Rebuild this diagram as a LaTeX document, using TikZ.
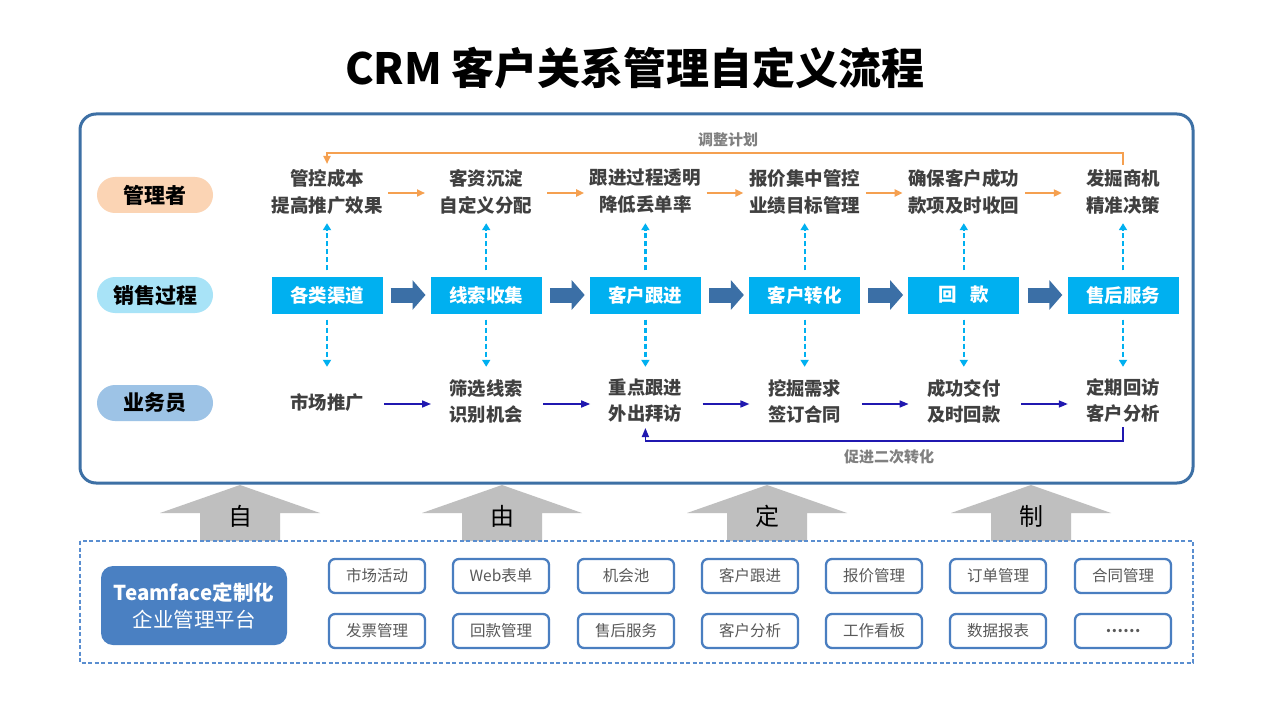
\documentclass[tikz,border=0pt]{standalone}
\usepackage{fontspec}
\setmainfont{Noto Sans CJK SC}
\usetikzlibrary{arrows.meta}
\definecolor{frameblue}{RGB}{61,112,165}
\definecolor{cyanb}{RGB}{0,176,240}
\definecolor{arrblue}{RGB}{59,111,166}
\definecolor{orangeA}{RGB}{245,160,80}
\definecolor{navyA}{RGB}{32,24,176}
\definecolor{txtgray}{RGB}{64,64,64}
\definecolor{lblgray}{RGB}{128,128,128}
\definecolor{peach}{RGB}{251,212,180}
\definecolor{lcyan}{RGB}{168,227,247}
\definecolor{lblue}{RGB}{157,195,230}
\definecolor{bigarr}{RGB}{191,191,191}
\definecolor{dashbl}{RGB}{90,142,208}
\definecolor{platf}{RGB}{74,128,194}
\definecolor{smallbd}{RGB}{74,126,192}
\definecolor{smalltx}{RGB}{89,89,89}
\tikzset{
  toptxt/.style={font=\fontsize{18.5}{27}\selectfont\bfseries, text=txtgray, align=center, minimum width=122pt, minimum height=63pt, inner sep=0pt},
  bottxt/.style={font=\fontsize{18.3}{26}\selectfont\bfseries, text=txtgray, align=center, minimum width=110pt, minimum height=68pt, inner sep=0pt},
  midbox/.style={fill=cyanb, text=white, font=\fontsize{18.5}{22}\selectfont\bfseries, minimum width=111pt, minimum height=37pt, inner sep=0pt},
  pill/.style={rounded corners=18pt, minimum width=116pt, minimum height=36pt, font=\fontsize{21}{24}\selectfont\bfseries, inner sep=0pt},
  blockarr/.style={draw=arrblue, line width=15pt, -{Triangle[length=13pt,width=29pt]}},
  orarr/.style={draw=orangeA, line width=2pt, -{Triangle[length=8pt,width=7pt]}},
  navarr/.style={draw=navyA, line width=1.6pt, -{Triangle[length=9pt,width=7pt]}},
  dasharr/.style={draw=cyanb, line width=2.2pt, dash pattern=on 5pt off 3pt, -{Triangle[length=7pt,width=8pt]}},
  lbl/.style={font=\fontsize{15}{17}\selectfont\bfseries, text=lblgray},
  smallbox/.style={draw=smallbd, line width=2.3pt, rounded corners=6pt, fill=white, minimum width=96pt, minimum height=34pt, inner sep=0pt, font=\fontsize{15.5}{18}\selectfont, text=smalltx},
  bigtxt/.style={font=\fontsize{24}{28}\selectfont, text=black}
}
\begin{document}
\begin{tikzpicture}[x=1pt,y=-1pt]
\useasboundingbox (0,0) rectangle (1265,711);
\fill[white] (0,0) rectangle (1265,711);

% title
\node[font=\fontsize{43}{48}\selectfont\bfseries] (title) at (635,68) {CRM 客户关系管理自定义流程};

% main frame
\draw[frameblue, line width=3pt, rounded corners=16pt] (80,114) rectangle (1193,483);

% left labels
\node[pill, fill=peach] (lm) at (155,195) {管理者};
\node[pill, fill=lcyan] (ls) at (155,295) {销售过程};
\node[pill, fill=lblue] (lb) at (155,403) {业务员};

% top texts
\node[toptxt] (t1) at (327,191.5) {管控成本\\提高推广效果};
\node[toptxt] (t2) at (486.2,191.5) {客资沉淀\\自定义分配};
\node[toptxt] (t3) at (645.4,191.5) {跟进过程透明\\降低丢单率};
\node[toptxt] (t4) at (804.6,191.5) {报价集中管控\\业绩目标管理};
\node[toptxt] (t5) at (963.8,191.5) {确保客户成功\\款项及时收回};
\node[toptxt] (t6) at (1123,191.5) {发掘商机\\精准决策};

% middle boxes
\node[midbox] (m1) at (327,295) {各类渠道};
\node[midbox] (m2) at (486.2,295) {线索收集};
\node[midbox] (m3) at (645.4,295) {客户跟进};
\node[midbox] (m4) at (804.6,295) {客户转化};
\node[midbox] (m5) at (963.8,295) {回\hspace{0.7em}款};
\node[midbox] (m6) at (1123,295) {售后服务};

% bottom texts
\node[bottxt, minimum height=72pt] (b1) at (327,403) {市场推广};
\node[bottxt] (b2) at (486.2,401) {筛选线索\\识别机会};
\node[bottxt] (b3) at (645.4,401) {重点跟进\\外出拜访};
\node[bottxt] (b4) at (804.6,401) {挖掘需求\\签订合同};
\node[bottxt] (b5) at (963.8,401) {成功交付\\及时回款};
\node[bottxt] (b6) at (1123,401) {定期回访\\客户分析};

% orange arrows
\foreach \a/\b in {t1/t2,t2/t3,t3/t4,t4/t5,t5/t6}
  \draw[orarr] ([yshift=-1.5pt]\a.east) -- ([yshift=-1.5pt]\b.west);
% block arrows
\foreach \a/\b in {m1/m2,m2/m3,m3/m4,m4/m5,m5/m6}
  \draw[blockarr] ([xshift=8pt]\a.east) -- ([xshift=-5pt]\b.west);
% navy arrows
\foreach \a/\b in {b1/b2,b2/b3,b3/b4,b4/b5,b5/b6}
  \draw[navarr] ([xshift=2pt,yshift=-1pt]\a.east |- b1.center) -- ([yshift=-1pt]\b.west |- b1.center);
% dashed vertical arrows
\foreach \i in {1,...,6} {
  \draw[dasharr] ([yshift=6pt]m\i.north) -- (t\i.south);
  \draw[dasharr] ([yshift=-6pt]m\i.south) -- (b\i.north);
}

% feedback loops
\draw[orarr] ([yshift=26.5pt]t6.center) -- ++(0,-12) -| ([yshift=27.5pt]t1.center);
\node[lbl] (adj) at (728,140) {调整计划};
\draw[navarr] ([yshift=-26pt]b6.center) -- ++(0,14) -| ([yshift=-27pt]b3.center);
\node[lbl] (promo) at (889,457) {促进二次转化};

% big gray arrows
\foreach \cx/\ch [count=\k] in {240/自,502/由,767/定,1031/制} {
  \fill[bigarr] (\cx,485) -- (\cx+80,513) -- (\cx+40,513) -- (\cx+40,541) -- (\cx-40,541) -- (\cx-40,513) -- (\cx-80,513) -- cycle;
  \node[bigtxt] (g\k) at (\cx,516) {\ch};
}

% dashed platform box
\draw[dashbl, line width=1.5pt, dash pattern=on 4pt off 2.5pt] (80,541) rectangle (1193,663);
\node[fill=platf, rounded corners=12pt, minimum width=186pt, minimum height=79pt, text=white, align=center, font=\fontsize{20.5}{27}\selectfont, inner sep=0pt] (plat) at (194,605.5) {\textbf{Teamface定制化}\\企业管理平台};

% small boxes
\foreach \x/\ta/\tb [count=\k] in {377/市场活动/发票管理, 501/Web表单/回款管理, 626/机会池/售后服务, 750/客户跟进/客户分析, 874/报价管理/工作看板, 998/订单管理/数据报表, 1123/合同管理/{\textbf{……}}} {
  \node[smallbox] (sa\k) at (\x,576) {\ta};
  \node[smallbox] (sb\k) at (\x,631) {\tb};
}
\end{tikzpicture}
\end{document}
